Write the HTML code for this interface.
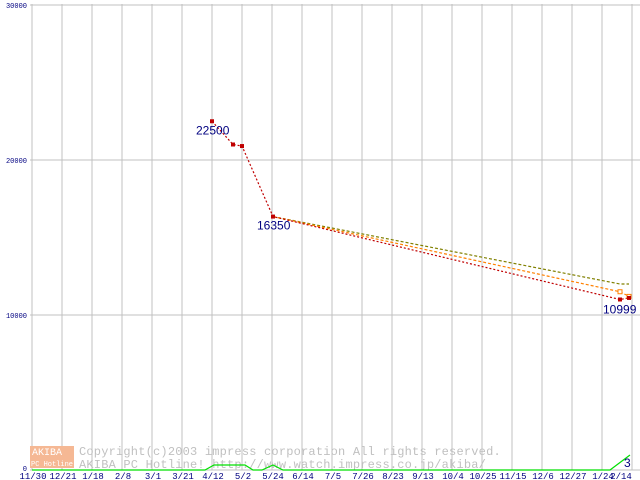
<!DOCTYPE html>
<html><head><meta charset="utf-8"><style>
body{margin:0;background:#fff;width:640px;height:480px;overflow:hidden}
svg{display:block;font-family:"Liberation Mono","DejaVu Sans Mono",monospace}
</style></head><body>
<svg id="chart" width="640" height="480" xmlns="http://www.w3.org/2000/svg">
<g id="grid"></g>
<g id="wm">
<rect x="30" y="446" width="44" height="11" fill="#f5b894"/>
<rect x="30" y="457" width="44" height="11" fill="#f5b894"/>
<text x="32" y="455" font-size="10" fill="#fff">AKIBA</text>
<text x="31" y="466" font-size="7" fill="#fff">PC Hotline!</text>
<text x="79" y="455" font-size="12" letter-spacing="0.2" fill="#c0c0c0">Copyright(c)2003 impress corporation All rights reserved.</text>
<text x="79" y="468" font-size="12" letter-spacing="0.2" fill="#c0c0c0">AKIBA PC Hotline!  http://www.watch.impress.co.jp/akiba/</text>
</g>
<g id="series"></g>
</svg>
<script>
const xLabels=["11/30","12/21","1/18","2/8","3/1","3/21","4/12","5/2","5/24","6/14","7/5","7/26","8/23","9/13","10/4","10/25","11/15","12/6","12/27","1/24","2/14"];
const yTicks=[0,10000,20000,30000];
const redWeeks=[18,20.1,21,24.1,58.8,59.7];
const redVals=[22500,21000,20900,16350,11000,11100];
const orangeWeeks=[24.1,58.8,59.7];
const orangeVals=[16350,11500,11200];
const oliveWeeks=[24.1,58.8,59.7];
const oliveVals=[16350,12000,12000];
const countWeeks=[0,17.3,18.2,21.3,22.1,23,24.1,25.1,57.8,59.8];
const countVals=[0,0,1,1,0,0,1,0,0,3];
const labels=[{i:0,t:"22500",dx:-16,dy:13},{i:3,t:"16350",dx:-16,dy:13},{i:4,t:"10999",dx:-17,dy:14}];

const NS="http://www.w3.org/2000/svg";
const X=w=>32+w*10;
const Y=v=>470-v*0.0155;
const YC=c=>470-c*5;
function mk(tag,attrs,parent){const e=document.createElementNS(NS,tag);for(const k in attrs)e.setAttribute(k,attrs[k]);parent.appendChild(e);return e;}
const grid=document.getElementById('grid');
const ser=document.getElementById('series');
xLabels.forEach((l,i)=>{
  const x=X(i*3);
  const ln=mk('line',{x1:x,y1:4,x2:x,y2:470,stroke:'#c0c0c0'},grid);
  
  
  const t=mk('text',{x:Math.min(x+1,621),y:479,'font-size':9,fill:'#000080','text-anchor':'middle'},grid);
  t.textContent=l;
  
  
});
yTicks.forEach(v=>{
  const y=Y(v);
  const ln=mk('line',{x1:30,y1:y,x2:640,y2:y,stroke:'#c0c0c0'},grid);
  
  
  const t=mk('text',{x:27,y:Math.min(y+3,471),'font-size':7,fill:'#000080','text-anchor':'end'},grid);
  t.textContent=v;
  
  
});
function poly(ws,vs,yf,color,dash,name){
  const p=mk('polyline',{points:ws.map((w,i)=>X(w)+','+yf(vs[i])).join(' '),fill:'none',stroke:color,'stroke-width':1.2,'stroke-dasharray':dash},ser);
  
  
}
poly(countWeeks,countVals,YC,'#00e000','','count-line');
poly(oliveWeeks,oliveVals,Y,'#808000','3,2','olive-line');
poly(orangeWeeks,orangeVals,Y,'#ff8000','3,2','orange-line');
poly(redWeeks,redVals,Y,'#c00000','2,2','red-line');
orangeWeeks.slice(1).forEach((w,i)=>{
  const r=mk('rect',{x:X(w)-2,y:Y(orangeVals[i+1])-2,width:4,height:4,fill:'#fff',stroke:'#ff8000'},ser);
  
  
});
redWeeks.forEach((w,i)=>{
  const r=mk('rect',{x:X(w)-2,y:Y(redVals[i])-2,width:4,height:4,fill:'#c00000'},ser);
  
  
});
labels.forEach(o=>{
  const t=mk('text',{x:X(redWeeks[o.i])+o.dx,y:Y(redVals[o.i])+o.dy,'font-size':12,fill:'#000080',style:'font-family:"Liberation Sans",sans-serif'},ser);
  t.textContent=o.t;
  
  
});
const c=mk('text',{x:X(countWeeks[countWeeks.length-1])-6,y:YC(countVals[countVals.length-1])+12,'font-size':12,fill:'#000080',style:'font-family:"Liberation Sans",sans-serif'},ser);
c.textContent=countVals[countVals.length-1];


</script>
</body></html>
